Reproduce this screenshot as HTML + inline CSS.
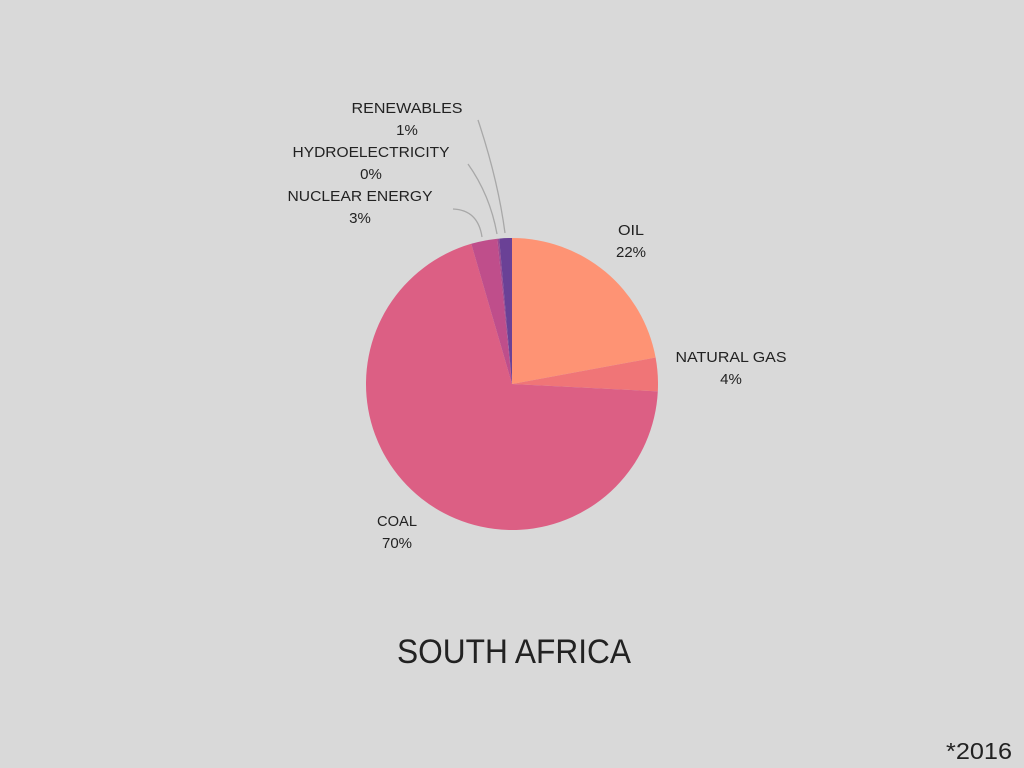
<!DOCTYPE html>
<html><head><meta charset="utf-8"><style>
html,body{margin:0;padding:0;background:#d9d9d9;}
svg{display:block;}
text{font-family:"Liberation Sans Narrow","Liberation Sans",sans-serif;fill:#222;}
</style></head><body>
<svg id="chart" width="1024" height="768">
<g id="slices"></g>
<g id="leaders" fill="none" stroke="#a8a8a8" stroke-width="1.3">
<path d="M478,120 Q498,180 505,233"/>
<path d="M468,164 Q490,195 497,234"/>
<path d="M453,209 Q478,210 482,237"/>
</g>
<g id="labels" font-size="15" text-anchor="middle"></g>
<text x="514" y="663" font-size="34" text-anchor="middle" textLength="234" lengthAdjust="spacingAndGlyphs">SOUTH AFRICA</text>
<text x="1012" y="759" font-size="23" text-anchor="end" textLength="66" lengthAdjust="spacingAndGlyphs">*2016</text>
</svg>
<script>
const categories=["OIL","NATURAL GAS","COAL","NUCLEAR ENERGY","HYDROELECTRICITY","RENEWABLES"];
const values=[22.1,3.7,69.7,2.9,0.2,1.4];
const printed=["22%","4%","70%","3%","0%","1%"];
const colors=["#fe9374","#f07577","#dc5f84","#bf4e8b","#9a4a92","#6a4196"];
const labelPos=[[631,235,26],[731,362,111],[397,526,40],[360,201,145],[371,157,157],[407,113,111]];
const NS="http://www.w3.org/2000/svg";
const cx=512,cy=384,r=146;
const total=values.reduce((a,b)=>a+b,0);
const g=document.getElementById('slices');
let acc=0;
function pt(f){const a=f*2*Math.PI;return [cx+r*Math.sin(a),cy-r*Math.cos(a)];}
values.forEach((v,i)=>{
  const f0=acc/total;acc+=v;const f1=acc/total;
  const p0=pt(f0),p1=pt(f1);
  const large=(f1-f0)>0.5?1:0;
  const p=document.createElementNS(NS,'path');
  p.setAttribute('d',`M${cx},${cy}L${p0[0]},${p0[1]}A${r},${r} 0 ${large} 1 ${p1[0]},${p1[1]}Z`);
  p.setAttribute('fill',colors[i]);
  
  
  g.appendChild(p);
});
const lg=document.getElementById('labels');
categories.forEach((c,i)=>{
  const [x,y,w]=labelPos[i];
  const t=document.createElementNS(NS,'text');
  t.setAttribute('x',x);t.setAttribute('y',y);
  t.setAttribute('textLength',w);t.setAttribute('lengthAdjust','spacingAndGlyphs');
  t.textContent=c;
  
  
  lg.appendChild(t);
  const t2=document.createElementNS(NS,'text');
  t2.setAttribute('x',x);t2.setAttribute('y',y+22);
  t2.textContent=printed[i];
  
  
  lg.appendChild(t2);
});
</script>
</body></html>
